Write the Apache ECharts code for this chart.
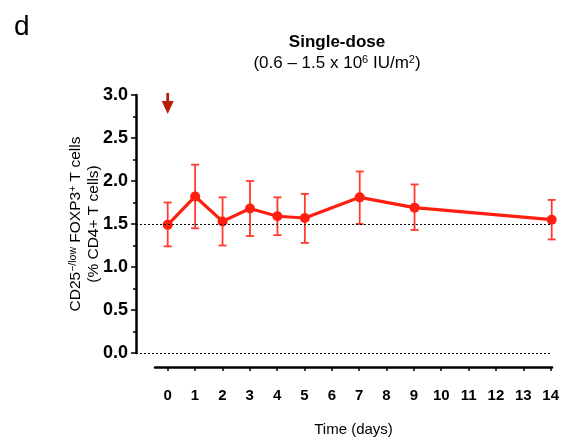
<!DOCTYPE html>
<html>
<head>
<meta charset="utf-8">
<script src="https://cdn.jsdelivr.net/npm/echarts@6/dist/echarts.min.js"></script>
<style>html,body{margin:0;padding:0;background:#fff}#c{width:562px;height:438px}</style>
</head>
<body>
<div id="c"></div>
<script>
const days = [0, 1, 2, 3, 4, 5, 7, 9, 14];
const meanVals = [1.49, 1.82, 1.53, 1.68, 1.59, 1.57, 1.81, 1.69, 1.55];
const upperVals = [1.75, 2.19, 1.81, 2.00, 1.81, 1.85, 2.11, 1.96, 1.78];
const lowerVals = [1.24, 1.45, 1.25, 1.36, 1.37, 1.28, 1.50, 1.43, 1.32];
const xTickValues = [0,1,2,3,4,5,6,7,8,9,10,11,12,13,14];
const baselineValues = [1.5, 0];
const doseDay = 0;
const arrowLevel = 2.9;

const FONT = 'Liberation Sans, Arial, Helvetica, sans-serif';
const RED = '#ff1f10';
const chart = echarts.init(document.getElementById('c'));

const lineData = days.map((d, i) => [d, meanVals[i]]);
const errData = days.map((d, i) => [d, lowerVals[i], upperVals[i]]);

chart.setOption({
  animation: false,
  backgroundColor: '#fff',
  title: [{
    text: 'Single-dose',
    subtext: '{n|(0.6 – 1.5 x 10}{s|6}{n| IU/m}{s|2}{n|)}',
    left: 332, top: 29, textAlign: 'center', itemGap: 3,
    textStyle: {fontFamily: FONT, fontSize: 17, fontWeight: 'bold', color: '#000'},
    subtextStyle: {
      color: '#000',
      rich: {
        n: {fontFamily: FONT, fontSize: 17, color: '#000'},
        s: {fontFamily: FONT, fontSize: 11, color: '#000', padding: [0, 0, 7, 0]}
      }
    }
  }, {
    text: 'd', left: 9, top: 8,
    textStyle: {fontFamily: FONT, fontSize: 28, fontWeight: 'normal', color: '#000'}
  }],
  grid: [
    {left: 136, top: 95, width: 415.7, height: 258, containLabel: false},
    {left: 155, top: 360, width: 398, height: 12, containLabel: false}
  ],
  xAxis: [{
    gridIndex: 0, type: 'value', min: -1.156, max: 14, show: false
  }, {
    gridIndex: 1, type: 'value', min: -0.463, max: 14.05,
    axisLine: {show: true, onZero: false, lineStyle: {color: '#000', width: 2.5}},
    axisTick: {show: true, customValues: xTickValues, length: 4, lineStyle: {color: '#000', width: 1.5}},
    axisLabel: {customValues: xTickValues, margin: 21, fontFamily: FONT, fontSize: 15, fontWeight: 'bold', color: '#000'},
    splitLine: {show: false},
    name: 'Time (days)', nameLocation: 'middle', nameGap: 55, nameMoveOverlap: false,
    nameTextStyle: {fontFamily: FONT, fontSize: 15, color: '#000'}
  }],
  yAxis: [{
    gridIndex: 0, type: 'value', min: 0, max: 3, interval: 0.5,
    axisLine: {show: true, onZero: false, lineStyle: {color: '#000', width: 2.5}},
    axisTick: {show: true, length: 5, lineStyle: {color: '#000', width: 1.5}},
    minorTick: {show: true, splitNumber: 2, length: 3, lineStyle: {color: '#000', width: 1.5}},
    axisLabel: {margin: 8, fontFamily: FONT, fontSize: 18, fontWeight: 'bold', color: '#000',
      formatter: v => v.toFixed(1)},
    splitLine: {show: false},
    name: '{a|CD25}{s|−/low}{a| FOXP3}{s|+}{a| T cells}\n{a|(% CD4+ T cells)}',
    nameLocation: 'middle', nameRotate: 90, nameGap: 33, nameMoveOverlap: false,
    nameTextStyle: {
      fontFamily: FONT, color: '#000', lineHeight: 18,
      rich: {
        a: {fontFamily: FONT, fontSize: 15.5, color: '#000', lineHeight: 18},
        s: {fontFamily: FONT, fontSize: 10.5, color: '#000', padding: [0, 0, 6, 0]}
      }
    }
  }, {
    gridIndex: 1, type: 'value', show: false
  }],
  series: [{
    type: 'custom',
    xAxisIndex: 0, yAxisIndex: 0,
    data: errData,
    z: 3,
    renderItem: function (params, api) {
      const x = api.value(0);
      const lo = api.coord([x, api.value(1)]);
      const hi = api.coord([x, api.value(2)]);
      const w = 4;
      const style = {stroke: '#ff3a2c', lineWidth: 1.8, fill: null};
      return {
        type: 'group',
        children: [
          {type: 'line', shape: {x1: lo[0], y1: lo[1], x2: hi[0], y2: hi[1]}, style},
          {type: 'line', shape: {x1: lo[0] - w, y1: lo[1], x2: lo[0] + w, y2: lo[1]}, style},
          {type: 'line', shape: {x1: hi[0] - w, y1: hi[1], x2: hi[0] + w, y2: hi[1]}, style}
        ]
      };
    }
  }, {
    type: 'line',
    xAxisIndex: 0, yAxisIndex: 0,
    data: lineData,
    z: 4,
    symbol: 'circle', symbolSize: 10,
    lineStyle: {color: RED, width: 3.2},
    itemStyle: {color: RED},
    markLine: {
      silent: true, symbol: ['none', 'none'],
      label: {show: false},
      lineStyle: {color: '#000', type: [2, 2], width: 1},
      data: baselineValues.map(v => ({yAxis: v}))
    },
    markPoint: {
      silent: true,
      symbol: 'path://M4.6,0 L7.4,0 L7.4,8 L12,8 L6,21 L0,8 L4.6,8 Z',
      symbolSize: [12, 21],
      itemStyle: {color: '#b81e0a'},
      label: {show: false},
      data: [{coord: [doseDay, arrowLevel]}]
    }
  }]
});
</script>
</body>
</html>
